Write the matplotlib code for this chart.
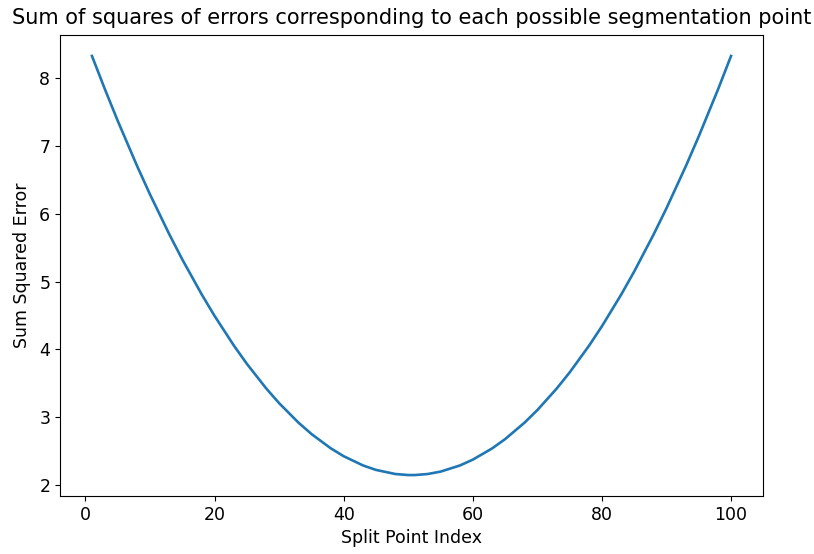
import matplotlib
matplotlib.use('Agg')
import matplotlib.pyplot as plt

# values
split_points = [1, 3, 5, 8, 10, 13, 15, 18, 20, 23, 25, 28, 30, 33, 35, 38, 40, 43, 45, 48, 50, 51,
                53, 55, 58, 60, 63, 65, 68, 70, 73, 75, 78, 80, 83, 85, 88, 90, 93, 95, 98, 100]
sse = [8.3325, 7.8427, 7.373, 6.7064, 6.2873, 5.6964, 5.3278, 4.8127, 4.4945, 4.0552, 3.7875,
       3.4239, 3.2068, 2.9189, 2.7523, 2.5402, 2.424, 2.2877, 2.222, 2.1614, 2.1463, 2.1463,
       2.1614, 2.1968, 2.2877, 2.3735, 2.5402, 2.6765, 2.9189, 3.1058, 3.4239, 3.6613, 4.0552,
       4.343, 4.8127, 5.151, 5.6964, 6.0853, 6.7064, 7.1458, 7.8427, 8.3325]

fig = plt.figure(figsize=(8.14, 5.54), dpi=100)
ax = fig.add_axes([60 / 814, 1 - 496 / 554, 703 / 814, 461 / 554])
ax.plot(split_points, sse, color='#1f77b4', linewidth=1.9)
ax.set_title('Sum of squares of errors corresponding to each possible segmentation point', fontsize=15, pad=8)
ax.set_xlabel('Split Point Index', fontsize=12.5)
ax.set_ylabel('Sum Squared Error', fontsize=12.5, labelpad=6)
ax.tick_params(labelsize=12.5)
plt.savefig('out.png', dpi=100)
